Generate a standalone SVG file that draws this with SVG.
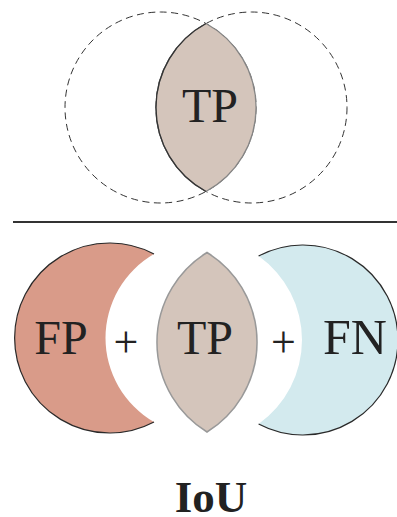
<svg xmlns="http://www.w3.org/2000/svg" width="397" height="517" viewBox="0 0 397 517">
  <style>
    .lbl { font-family: "Liberation Serif", "Times New Roman", serif; font-size: 48px; fill: #222; text-anchor: middle; }
    .op { font-family: "Liberation Serif", "Times New Roman", serif; font-size: 44px; fill: #222; text-anchor: middle; }
    .title { font-family: "Liberation Serif", "Times New Roman", serif; font-size: 45px; font-weight: bold; fill: #222; text-anchor: middle; }
    .dash { fill: none; stroke: #333; stroke-width: 1; stroke-dasharray: 7 4.5; }
    .edge { fill: none; stroke: #2a2a2a; stroke-width: 1.2; }
  </style>

  <!-- Intersection of two sets -->
  <g id="set-a">
    <circle class="dash" cx="160.5" cy="107.5" r="95.5"/>
  </g>
  <g id="set-b">
    <circle class="dash" cx="251.5" cy="107.5" r="95.5"/>
  </g>
  <g id="tp-top">
    <path d="M 206 23.5 A 95.5 95.5 0 0 1 206 191.5 A 95.5 95.5 0 0 1 206 23.5 Z" fill="#d4c5bb" stroke="#858585" stroke-width="1.3"/>
    <path d="M 206 191.5 A 95.5 95.5 0 0 1 206 23.5" fill="none" stroke="#333" stroke-width="1.3"/>
    <text class="lbl" x="210" y="122">TP</text>
  </g>

  <!-- Divider -->
  <g id="divider">
    <line x1="13" y1="222" x2="397" y2="222" stroke="#333" stroke-width="2"/>
  </g>

  <!-- Union: FP + TP + FN -->
  <g id="fp">
    <path d="M 154 254 A 95 95 0 1 0 154 422 A 97 97 0 0 1 154 254 Z" fill="#d99b89"/>
    <path class="edge" d="M 154 254 A 95 95 0 1 0 154 422"/>
    <text class="lbl" x="61" y="354">FP</text>
  </g>
  <g id="plus-1">
    <text class="op" x="126" y="357">+</text>
  </g>
  <g id="tp-bottom">
    <path d="M 207 252.5 A 105.5 105.5 0 0 1 207 432 A 105.5 105.5 0 0 1 207 252.5 Z" fill="#d4c5bb" stroke="#999" stroke-width="1.5"/>
    <text class="lbl" x="205" y="354">TP</text>
  </g>
  <g id="plus-2">
    <text class="op" x="283.5" y="357">+</text>
  </g>
  <g id="fn">
    <path d="M 258.6 256 A 95 95 0 1 1 258.6 424 A 103 103 0 0 0 258.6 256 Z" fill="#d3eaee"/>
    <path class="edge" d="M 258.6 256 A 95 95 0 1 1 258.6 424"/>
    <text class="lbl" x="355" y="354" style="font-size:50px">FN</text>
  </g>

  <g id="caption">
    <text class="title" x="211" y="512">IoU</text>
  </g>
</svg>
